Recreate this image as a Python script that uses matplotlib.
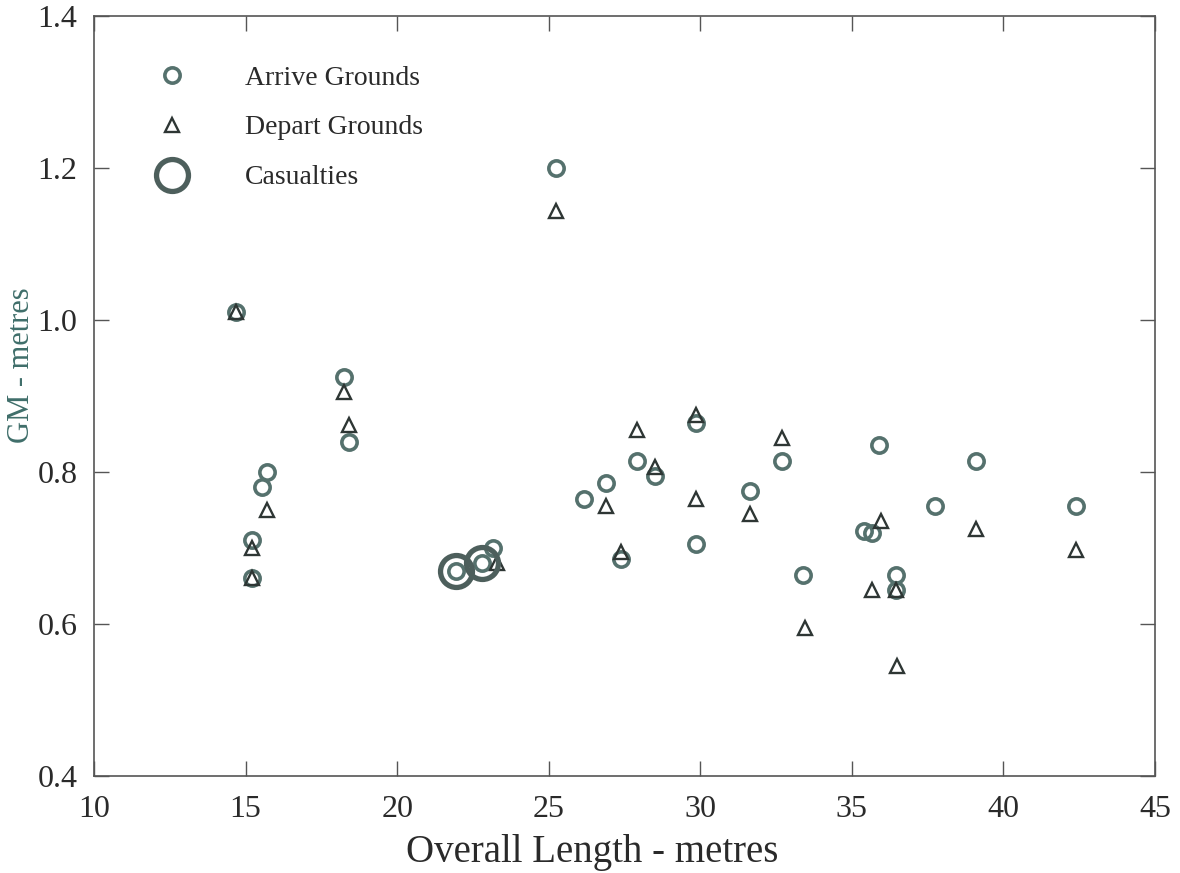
import matplotlib
matplotlib.use("Agg")
import matplotlib.pyplot as plt

# vessel length (m) vs. metacentric height (m)
arrive_len = [14.7, 15.2, 15.2, 15.55, 15.7, 18.25, 18.4, 21.95, 22.8, 23.15,
              25.25, 26.15, 26.9, 27.4, 27.9, 28.5, 29.85, 29.85, 31.65, 32.7,
              33.4, 35.4, 35.65, 35.9, 36.45, 36.45, 37.75, 39.1, 42.4]
arrive_gm = [1.01, 0.71, 0.66, 0.78, 0.80, 0.925, 0.84, 0.67, 0.68, 0.70,
             1.20, 0.765, 0.785, 0.685, 0.815, 0.795, 0.865, 0.705, 0.775, 0.815,
             0.665, 0.723, 0.72, 0.835, 0.665, 0.645, 0.755, 0.815, 0.755]

depart_len = [14.7, 15.2, 15.2, 15.7, 18.25, 18.4, 23.3, 25.25, 26.9, 27.4,
              27.9, 28.5, 29.85, 29.85, 31.65, 32.7, 33.45, 35.65, 35.95, 36.45,
              36.5, 39.1, 42.4]
depart_gm = [1.01, 0.70, 0.66, 0.75, 0.905, 0.862, 0.68, 1.143, 0.755, 0.695,
             0.855, 0.806, 0.875, 0.765, 0.745, 0.845, 0.595, 0.645, 0.735, 0.645,
             0.545, 0.725, 0.697]

casualty_len = [21.95, 22.8]
casualty_gm = [0.67, 0.68]

x_ticks = [10, 15, 20, 25, 30, 35, 40, 45]
y_ticks = [0.4, 0.6, 0.8, 1.0, 1.2, 1.4]

plt.rcParams['font.family'] = ['Liberation Serif', 'DejaVu Serif']

fig = plt.figure(figsize=(11.8, 8.73), dpi=100)
ax = fig.add_axes([94 / 1180, 1 - 776 / 873, (1155 - 94) / 1180, (776 - 16) / 873])

ring = '#55716d'
dark = '#2e3634'

ax.plot(arrive_len, arrive_gm, linestyle='none', marker='o', markersize=11,
        markerfacecolor='none', markeredgecolor=ring, markeredgewidth=2.6,
        label='Arrive Grounds', zorder=3)
ax.plot(depart_len, depart_gm, linestyle='none', marker='^', markersize=10,
        markerfacecolor='none', markeredgecolor=dark, markeredgewidth=1.7,
        label='Depart Grounds', zorder=4)
ax.plot(casualty_len, casualty_gm, linestyle='none', marker='o', markersize=23,
        markerfacecolor='none', markeredgecolor='#4d5f5c', markeredgewidth=3.8,
        label='Casualties', zorder=5)

ax.set_xlim(10, 45)
ax.set_ylim(0.4, 1.4)
ax.set_xticks(x_ticks)
ax.set_yticks(y_ticks)
ax.set_yticklabels(['%.1f' % v for v in y_ticks])

ax.tick_params(direction='in', top=True, right=True, length=11, width=1,
               color='#555555', labelsize=23, labelcolor='#2a2a2a')
ax.tick_params(axis='x', pad=14)
ax.tick_params(axis='y', pad=12)
for s in ax.spines.values():
    s.set_color('#555555')
    s.set_linewidth(1.2)

ax.set_xlabel('Overall Length - metres', fontsize=28, color='#2a2a2a')
ax.xaxis.set_label_coords(0.47, -0.076)
ax.set_ylabel('GM - metres', fontsize=22, color='#3f6e6a')
ax.yaxis.set_label_coords(-0.055, 0.54)

leg = ax.legend(loc='upper left', bbox_to_anchor=(0.043, 0.95), frameon=False,
                fontsize=20, labelspacing=0.88, handletextpad=1.9,
                handlelength=1.5, borderaxespad=0)
for t in leg.get_texts():
    t.set_color('#2a2a2a')

fig.savefig('out.png', dpi=100)
